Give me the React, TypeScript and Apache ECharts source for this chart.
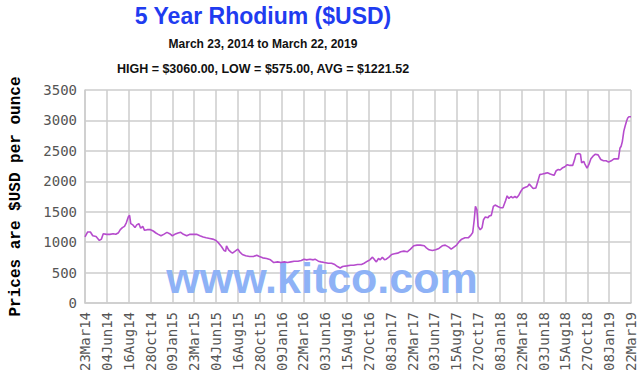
import React, { useEffect, useRef } from "react";
import * as echarts from "echarts";

const titleText = "5 Year Rhodium ($USD)";
const subtitleText = "March 23, 2014 to March 22, 2019";
const statsText = "HIGH = $3060.00, LOW = $575.00, AVG = $1221.52";
const yAxisName = "Prices are $USD per ounce";
const watermarkText = "www.kitco.com";

const tickLabels = [
  "23Mar14", "04Jun14", "16Aug14", "28Oct14", "09Jan15", "23Mar15", "04Jun15",
  "16Aug15", "28Oct15", "09Jan16", "22Mar16", "03Jun16", "15Aug16", "27Oct16",
  "08Jan17", "22Mar17", "03Jun17", "15Aug17", "27Oct17", "08Jan18", "22Mar18",
  "03Jun18", "15Aug18", "27Oct18", "08Jan19", "22Mar19",
];
const tickStepDays = 73;
const totalDays = 1825;

// days since 23 Mar 2014
const dayOffsets = [
  0, 9, 18, 26, 37, 48, 55, 61, 72, 83, 94, 103, 112, 118, 125, 132, 138, 145, 149, 153,
  160, 167, 173, 180, 186, 193, 199, 208, 219, 228, 237, 245, 254, 263, 274, 283, 292, 300,
  311, 320, 329, 340, 351, 362, 373, 384, 395, 405, 417, 427, 438, 447, 456, 465, 470,
  473, 480, 487, 493, 502, 511, 517, 526, 537, 550, 563, 574, 583, 594, 607, 620, 631,
  644, 655, 666, 677, 688, 699, 712, 723, 732, 741, 752, 763, 769, 780, 789, 800, 813,
  824, 835, 844, 853, 861, 875, 888, 898, 911, 924, 933, 944, 952, 961, 968, 974, 981,
  987, 994, 1001, 1007, 1016, 1025, 1034, 1045, 1055, 1066, 1077, 1088, 1099, 1110,
  1121, 1134, 1141, 1150, 1161, 1172, 1183, 1194, 1204, 1216, 1224, 1233, 1242, 1250,
  1259, 1270, 1281, 1290, 1296, 1301, 1305, 1310, 1314, 1321, 1327, 1332, 1338, 1347,
  1351, 1358, 1365, 1371, 1380, 1389, 1397, 1406, 1411, 1417, 1424, 1430, 1437, 1443,
  1450, 1457, 1463, 1472, 1479, 1485, 1492, 1498, 1507, 1513, 1520, 1529, 1538, 1546,
  1555, 1562, 1568, 1575, 1582, 1588, 1595, 1604, 1612, 1621, 1630, 1636, 1641, 1650,
  1656, 1660, 1667, 1671, 1678, 1684, 1691, 1698, 1706, 1715, 1724, 1733, 1742, 1750,
  1759, 1768, 1777, 1783, 1788, 1792, 1796, 1801, 1805, 1810, 1814, 1818, 1825,
];

const prices = [
  1085, 1167, 1167, 1105, 1094, 1028, 1050, 1139, 1128, 1128, 1139, 1130, 1155, 1205, 1239, 1260, 1317, 1417, 1440, 1305,
  1283, 1239, 1283, 1305, 1228, 1260, 1194, 1205, 1205, 1183, 1150, 1128, 1105, 1128, 1161, 1139, 1105, 1128,
  1150, 1161, 1128, 1105, 1128, 1128, 1128, 1105, 1083, 1072, 1061, 1050, 1028, 983, 928, 861, 850,
  940, 874, 841, 819, 852, 885, 841, 797, 775, 764, 764, 786, 764, 742, 731, 709, 665,
  676, 665, 676, 665, 676, 687, 687, 698, 720, 709, 720, 709, 720, 687, 676, 665, 654,
  654, 632, 599, 575, 599, 610, 621, 621, 632, 632, 654, 687, 709, 753, 709, 676, 731,
  709, 753, 709, 720, 753, 797, 808, 819, 841, 852, 841, 885, 940, 951,
  951, 940, 907, 874, 863, 874, 896, 940, 951, 918, 885, 918, 951, 1005,
  1049, 1071, 1071, 1115, 1159, 1368, 1587, 1532, 1258, 1203, 1236, 1368, 1412, 1400,
  1430, 1440, 1587, 1609, 1587, 1566, 1566, 1685, 1761, 1718, 1750, 1728, 1750, 1728,
  1772, 1837, 1880, 1902, 1913, 1957, 1913, 1880, 1891, 1989, 2109, 2119, 2130, 2141,
  2119, 2109, 2098, 2174, 2195, 2185, 2217, 2239, 2272, 2261, 2261, 2348, 2445, 2456,
  2445, 2304, 2326, 2282, 2217, 2272, 2369, 2413, 2445, 2434, 2358, 2337, 2337, 2315,
  2337, 2369, 2369, 2369, 2543, 2576, 2652, 2825, 2901, 2988, 3040, 3060, 3060,
];

export default function App() {
  const ref = useRef<HTMLDivElement>(null);

  useEffect(() => {
    if (!ref.current) return;
    const chart = echarts.init(ref.current, null, { renderer: "svg" });
    const gridColor = "#cdcdcd";
    const labelFont = "DejaVu Sans Mono";
    const series = dayOffsets.map((d, i) => [d, prices[i]]);

    chart.setOption({
      animation: false,
      backgroundColor: "#ffffff",
      grid: { left: 76, right: 9, top: 90, bottom: 86, containLabel: false },
      xAxis: {
        type: "value",
        min: 0,
        max: totalDays,
        interval: tickStepDays,
        axisLine: { show: true, lineStyle: { color: gridColor, width: 1.5 } },
        axisTick: { show: false },
        splitLine: { show: true, lineStyle: { color: gridColor, width: 1.5 } },
        axisLabel: {
          rotate: 90,
          margin: 9,
          color: "#555555",
          fontFamily: labelFont,
          fontSize: 14,
          showMinLabel: true,
          showMaxLabel: true,
          hideOverlap: false,
          formatter: (v: number) => tickLabels[Math.round(v / tickStepDays)] ?? "",
        },
      },
      yAxis: {
        type: "value",
        min: 0,
        max: 3500,
        interval: 500,
        name: yAxisName,
        nameLocation: "middle",
        nameRotate: 90,
        nameGap: 61,
        nameTextStyle: {
          fontFamily: "Liberation Mono",
          fontWeight: "bold",
          fontSize: 16,
          color: "#000000",
        },
        axisLine: { show: true, lineStyle: { color: gridColor, width: 1.5 } },
        axisTick: { show: false },
        splitLine: { show: true, lineStyle: { color: gridColor, width: 1.5 } },
        axisLabel: {
          margin: 8,
          color: "#555555",
          fontFamily: labelFont,
          fontSize: 14,
          formatter: (v: number) => String(v),
        },
      },
      graphic: [
        {
          type: "text",
          x: 263,
          y: 16,
          style: {
            text: titleText,
            fill: "#1f3cf0",
            font: "bold 23px 'Liberation Sans', Arial, sans-serif",
            textAlign: "center",
            textVerticalAlign: "middle",
          },
        },
        {
          type: "text",
          x: 263,
          y: 44,
          style: {
            text: subtitleText,
            fill: "#111111",
            font: "bold 12px 'Liberation Sans', Arial, sans-serif",
            textAlign: "center",
            textVerticalAlign: "middle",
          },
        },
        {
          type: "text",
          x: 263,
          y: 69,
          style: {
            text: statsText,
            fill: "#111111",
            font: "bold 12.5px 'Liberation Sans', Arial, sans-serif",
            textAlign: "center",
            textVerticalAlign: "middle",
          },
        },
        {
          type: "text",
          x: 322,
          y: 299,
          z: 1,
          style: {
            text: watermarkText,
            fill: "#8eb2f6",
            font: "bold 43px 'Liberation Sans', Arial, sans-serif",
            textAlign: "center",
            textVerticalAlign: "bottom",
          },
        },
      ],
      series: [
        {
          type: "line",
          data: series,
          showSymbol: false,
          symbol: "none",
          z: 5,
          lineStyle: { color: "#b64ccd", width: 1.6 },
        },
      ],
    });

    return () => chart.dispose();
  }, []);

  return (
    <div
      ref={ref}
      style={{ position: "fixed", left: 0, top: 0, width: 640, height: 389, background: "#fff" }}
    />
  );
}
